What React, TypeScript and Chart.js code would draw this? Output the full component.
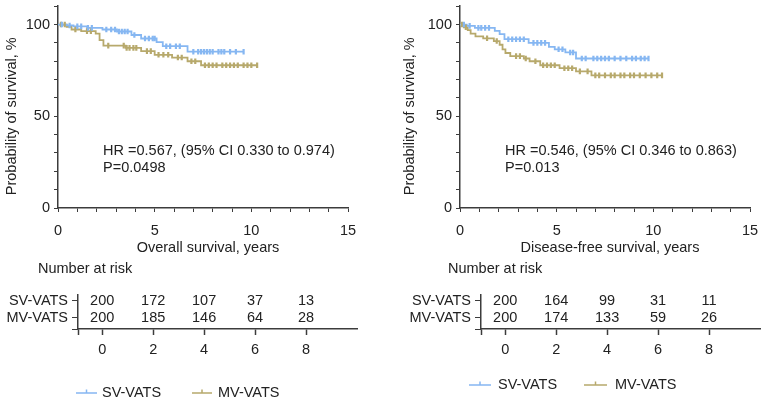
import React, { useEffect, useRef } from 'react';
import { Chart, registerables } from 'chart.js';

Chart.register(...registerables);

const FONT = '"Liberation Sans", Arial, Helvetica, sans-serif';
const FS = 14.5;
const TEXT = '#222222';
const AXIS = '#3c3c3c';
const BLUE = '#86b7f2';
const GOLD = '#b7a96c';

const seriesNames = ['SV-VATS', 'MV-VATS'];

// ---- Overall survival (left) ----
const osSvTimes = [0, 0.45, 0.8, 1.5, 2.3, 3.05, 3.8, 4.3, 5.1, 5.42, 6.7, 9.6];
const osSvSurv = [100, 99.5, 99, 98.2, 97.3, 96.2, 94.3, 92.4, 90.4, 88.2, 85.2, 85.2];
const osSvCensor = [0.2, 0.6, 1.0, 1.2, 1.55, 1.75, 2.5, 2.75, 2.95, 3.15, 3.3, 3.45, 3.6, 3.95, 4.5, 4.7, 4.9, 5.0, 5.6, 5.8, 6.1, 6.3, 7.0, 7.25, 7.4, 7.55, 7.7, 7.85, 8.0, 8.3, 8.45, 8.6, 8.9, 9.2, 9.6];
const osMvTimes = [0, 0.45, 0.7, 1.2, 1.95, 2.15, 2.35, 3.5, 4.3, 5.0, 5.9, 6.7, 7.4, 10.3];
const osMvSurv = [100, 98.8, 97.3, 96.4, 95, 91.5, 88.5, 87.3, 85.5, 83.5, 82, 80, 77.8, 77.8];
const osMvCensor = [0.15, 0.35, 0.9, 1.5, 1.7, 2.6, 3.4, 3.55, 3.7, 3.9, 4.05, 4.6, 4.8, 5.2, 5.45, 5.7, 6.2, 6.4, 6.9, 7.1, 7.6, 7.8, 8.0, 8.2, 8.5, 8.7, 8.9, 9.1, 9.3, 9.6, 9.8, 10.0, 10.3];

// ---- Disease-free survival (right) ----
const dfsSvTimes = [0, 0.35, 0.77, 1.8, 2.05, 2.3, 3.55, 4.6, 4.9, 5.45, 6.0, 9.75];
const dfsSvSurv = [100, 99.3, 98.2, 96.5, 94.8, 92, 90, 87.8, 86.5, 84.8, 81.5, 81.5];
const dfsSvCensor = [0.2, 0.5, 0.95, 1.1, 1.3, 1.5, 2.5, 2.7, 2.9, 3.1, 3.3, 3.8, 4.0, 4.2, 4.4, 5.1, 5.3, 5.7, 5.85, 6.3, 6.5, 6.9, 7.1, 7.3, 7.5, 7.7, 8.0, 8.3, 8.6, 8.9, 9.1, 9.35, 9.55, 9.75];
const dfsMvTimes = [0, 0.2, 0.4, 0.55, 0.8, 1.2, 1.75, 2.05, 2.2, 2.35, 2.6, 3.3, 3.6, 4.15, 5.15, 6.0, 6.8, 10.45];
const dfsMvSurv = [100, 98.5, 97, 95, 93.5, 92.5, 91, 89, 86.5, 84.5, 82.8, 81.5, 80, 77.8, 76.2, 74.5, 72.3, 72.3];
const dfsMvCensor = [0.1, 0.3, 1.4, 1.9, 2.9, 3.1, 3.4, 3.9, 4.3, 4.5, 4.7, 4.9, 5.4, 5.6, 5.8, 6.2, 6.6, 7.0, 7.2, 7.5, 7.8, 8.0, 8.3, 8.5, 8.8, 9.0, 9.3, 9.6, 9.9, 10.2, 10.45];

// ---- Number at risk ----
const riskTimes = [0, 2, 4, 6, 8];
const osRiskSv = [200, 172, 107, 37, 13];
const osRiskMv = [200, 185, 146, 64, 28];
const dfsRiskSv = [200, 164, 99, 31, 11];
const dfsRiskMv = [200, 174, 133, 59, 26];

// ---- Tick labels / texts ----
const mainXLabels = [0, 5, 10, 15];
const mainYLabels = [0, 50, 100];
const yTitle = 'Probability of survival, %';
const osXTitle = 'Overall survival, years';
const dfsXTitle = 'Disease-free survival, years';
const osHr = ['HR =0.567, (95% CI 0.330 to 0.974)', 'P=0.0498'];
const dfsHr = ['HR =0.546, (95% CI 0.346 to 0.863)', 'P=0.013'];
const riskTitle = 'Number at risk';

function survAt(times: number[], surv: number[], t: number) {
  let s = surv[0];
  for (let i = 0; i < times.length; i++) if (times[i] <= t) s = surv[i];
  return s;
}

type MainP = {
  svT: number[]; svS: number[]; svC: number[];
  mvT: number[]; mvS: number[]; mvC: number[];
  xTitle: string; hr: string[]; yWidth: number; padRight: number; yTitleX: number;
};

function mainConfig(p: MainP): any {
  const curve = (t: number[], s: number[], c: string) => ({
    data: t.map((x, i) => ({ x, y: s[i] })),
    showLine: true, stepped: 'before', borderColor: c, borderWidth: 1.8,
    pointRadius: 0, fill: false, order: 2,
  });
  const cens = (t: number[], s: number[], cs: number[], c: string) => ({
    data: cs.map((x) => ({ x, y: survAt(t, s, x) })),
    showLine: false, pointStyle: 'line', rotation: 90, pointRadius: 2.8,
    pointBorderWidth: 2.2, borderColor: c, pointBorderColor: c, order: 1,
  });
  const textPlugin = {
    id: 'mainText',
    afterDraw(chart: any) {
      const { ctx, scales, chartArea } = chart;
      ctx.save();
      ctx.font = `${FS}px ${FONT}`;
      ctx.fillStyle = TEXT;
      ctx.textAlign = 'left';
      ctx.textBaseline = 'middle';
      const x = scales.x.getPixelForValue(2.33);
      ctx.fillText(p.hr[0], x, scales.y.getPixelForValue(30.9));
      ctx.fillText(p.hr[1], x, scales.y.getPixelForValue(21.8));
      ctx.textAlign = 'center';
      ctx.fillText(p.xTitle, (chartArea.left + chartArea.right) / 2 + 5, 248);
      ctx.translate(p.yTitleX, scales.y.getPixelForValue(50));
      ctx.rotate(-Math.PI / 2);
      ctx.fillText(yTitle, 0, 0);
      ctx.restore();
    },
  };
  return {
    type: 'scatter',
    data: {
      datasets: [
        curve(p.svT, p.svS, BLUE), cens(p.svT, p.svS, p.svC, BLUE),
        curve(p.mvT, p.mvS, GOLD), cens(p.mvT, p.mvS, p.mvC, GOLD),
      ],
    },
    options: {
      responsive: false, animation: false,
      layout: { padding: { left: 0, right: p.padRight, top: -3, bottom: 0 } },
      plugins: { legend: { display: false }, tooltip: { enabled: false } },
      scales: {
        x: {
          type: 'linear', min: 0, max: 15,
          afterFit: (s: any) => { s.height = 50; s.paddingLeft = 0; s.paddingRight = 0; },
          ticks: {
            stepSize: 1, autoSkip: false, maxRotation: 0, padding: 10,
            font: { family: FONT, size: FS }, color: TEXT,
            callback: (v: any) => (mainXLabels.includes(v) ? String(v) : ''),
          },
          grid: { drawOnChartArea: false, drawTicks: true, tickLength: 4, tickColor: AXIS, tickWidth: 1 },
          border: { color: AXIS, width: 1.5 },
        },
        y: {
          type: 'linear', min: 0, max: 110,
          afterFit: (s: any) => { s.width = p.yWidth; s.paddingTop = 0; s.paddingBottom = 0; },
          ticks: {
            stepSize: 10, autoSkip: false, padding: 4,
            font: { family: FONT, size: FS }, color: TEXT,
            callback: (v: any) => (mainYLabels.includes(v) ? String(v) : ''),
          },
          grid: { drawOnChartArea: false, drawTicks: true, tickLength: 4, tickColor: AXIS, tickWidth: 1 },
          border: { color: AXIS, width: 1.5 },
        },
      },
    },
    plugins: [textPlugin],
  };
}

type RiskP = {
  sv: number[]; mv: number[]; yWidth: number; padRight: number;
  titleX: number; legendY: number; legend: { l0: number; l1: number; tx: number }[];
};

function riskConfig(p: RiskP): any {
  const row = (vals: number[], idx: number) => ({
    data: riskTimes.map((x) => ({ x, y: idx + 1 })),
    counts: vals, pointRadius: 0, showLine: false,
  });
  const textPlugin = {
    id: 'riskText',
    afterDraw(chart: any) {
      const { ctx } = chart;
      ctx.save();
      ctx.font = `${FS}px ${FONT}`;
      ctx.fillStyle = TEXT;
      ctx.textBaseline = 'middle';
      ctx.textAlign = 'left';
      ctx.fillText(riskTitle, p.titleX, 9);
      ctx.textAlign = 'center';
      chart.data.datasets.forEach((ds: any, di: number) => {
        const meta = chart.getDatasetMeta(di);
        meta.data.forEach((el: any, i: number) => {
          ctx.fillText(String(ds.counts[i]), el.x, el.y);
        });
      });
      const cols = [BLUE, GOLD];
      p.legend.forEach((it, i) => {
        ctx.strokeStyle = cols[i];
        ctx.lineWidth = 1.5;
        ctx.beginPath();
        ctx.moveTo(it.l0, p.legendY);
        ctx.lineTo(it.l1, p.legendY);
        const mx = (it.l0 + it.l1) / 2;
        ctx.moveTo(mx, p.legendY);
        ctx.lineTo(mx, p.legendY - 3.5);
        ctx.stroke();
        ctx.fillStyle = TEXT;
        ctx.textAlign = 'left';
        ctx.fillText(seriesNames[i], it.tx, p.legendY);
      });
      ctx.restore();
    },
  };
  return {
    type: 'scatter',
    data: { datasets: [row(p.sv, 0), row(p.mv, 1)] },
    options: {
      responsive: false, animation: false,
      layout: { padding: { left: 0, right: p.padRight, top: 35, bottom: 41 } },
      plugins: { legend: { display: false }, tooltip: { enabled: false } },
      scales: {
        x: {
          type: 'linear', min: -0.95, max: 10,
          afterFit: (s: any) => { s.height = 30; s.paddingLeft = 0; s.paddingRight = 0; },
          afterBuildTicks: (s: any) => { s.ticks = [-0.95, ...riskTimes].map((v) => ({ value: v })); },
          ticks: {
            autoSkip: false, maxRotation: 0, padding: 6,
            font: { family: FONT, size: FS }, color: TEXT,
            callback: (v: any) => (riskTimes.includes(v) ? String(v) : ''),
          },
          grid: { drawOnChartArea: false, drawTicks: true, tickLength: 6, tickColor: AXIS, tickWidth: 1.5 },
          border: { color: AXIS, width: 1.5 },
        },
        y: {
          type: 'linear', min: 0.65, max: 2.65, reverse: true,
          afterFit: (s: any) => { s.width = p.yWidth; s.paddingTop = 0; s.paddingBottom = 0; },
          afterBuildTicks: (s: any) => { s.ticks = [1, 2, 2.65].map((v) => ({ value: v })); },
          ticks: {
            autoSkip: false, padding: 4,
            font: { family: FONT, size: FS }, color: TEXT,
            callback: (v: any) => (v === 1 ? seriesNames[0] : v === 2 ? seriesNames[1] : ''),
          },
          grid: { drawOnChartArea: false, drawTicks: true, tickLength: 6, tickColor: AXIS, tickWidth: 1 },
          border: { color: AXIS, width: 1.5 },
        },
      },
    },
    plugins: [textPlugin],
  };
}

function ChartCanvas({ config, left, top, width, height }: any) {
  const ref = useRef<HTMLCanvasElement>(null);
  useEffect(() => {
    if (!ref.current) return;
    const c = new Chart(ref.current, config);
    return () => c.destroy();
  }, []);
  return (
    <canvas ref={ref} width={width} height={height}
      style={{ position: 'absolute', left, top, width, height }} />
  );
}

export default function App() {
  const osMain = mainConfig({
    svT: osSvTimes, svS: osSvSurv, svC: osSvCensor,
    mvT: osMvTimes, mvS: osMvSurv, mvC: osMvCensor,
    xTitle: osXTitle, hr: osHr, yWidth: 58, padRight: 32, yTitleX: 12,
  });
  const dfsMain = mainConfig({
    svT: dfsSvTimes, svS: dfsSvSurv, svC: dfsSvCensor,
    mvT: dfsMvTimes, mvS: dfsMvSurv, mvC: dfsMvCensor,
    xTitle: dfsXTitle, hr: dfsHr, yWidth: 80, padRight: 14, yTitleX: 30,
  });
  const osRisk = riskConfig({
    sv: osRiskSv, mv: osRiskMv, yWidth: 78, padRight: 23, titleX: 38, legendY: 133,
    legend: [{ l0: 76, l1: 97, tx: 102 }, { l0: 192, l1: 212, tx: 218 }],
  });
  const dfsRisk = riskConfig({
    sv: dfsRiskSv, mv: dfsRiskMv, yWidth: 101, padRight: 4, titleX: 68, legendY: 125,
    legend: [{ l0: 89, l1: 111, tx: 118 }, { l0: 204, l1: 227, tx: 235 }],
  });
  return (
    <div style={{ position: 'fixed', left: 0, top: 0, width: 764, height: 400, background: '#ffffff', overflow: 'hidden' }}>
      <ChartCanvas config={osMain} left={0} top={0} width={380} height={258} />
      <ChartCanvas config={dfsMain} left={380} top={0} width={384} height={258} />
      <ChartCanvas config={osRisk} left={0} top={260} width={380} height={140} />
      <ChartCanvas config={dfsRisk} left={380} top={260} width={384} height={140} />
    </div>
  );
}
